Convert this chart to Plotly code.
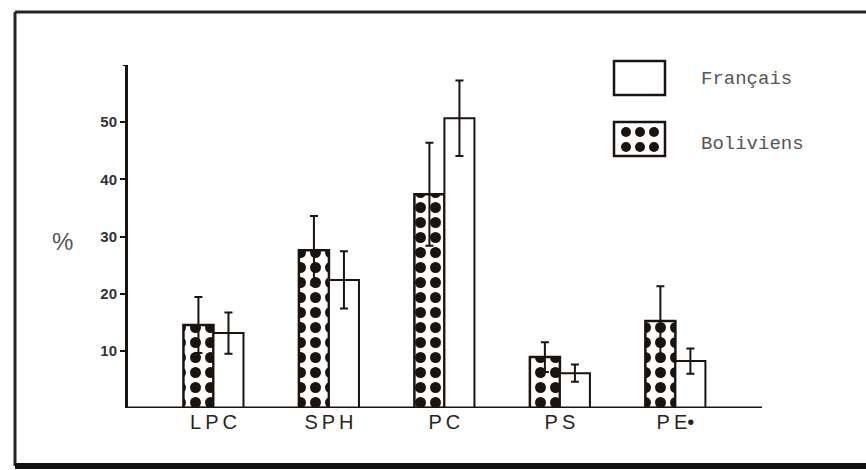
import plotly.graph_objects as go

categories = ["LPC", "SPH", "PC", "PS", "PE•"]
category_labels = ["L\u2009P\u2009C", "S\u2009P\u2009H", "P\u2009C", "P\u2009S", "P\u2009E•"]
boliviens = [14.5, 27.6, 37.4, 8.9, 15.2]
boliviens_err = [4.9, 6.0, 9.0, 2.6, 6.1]
francais = [13.1, 22.4, 50.7, 6.1, 8.2]
francais_err = [3.6, 5.0, 6.6, 1.5, 2.2]
y_ticks = [10, 20, 30, 40, 50]

W, H = 866, 470
L, R, T, B = 128, 104, 65, 62
INK = "#1a1410"

fig = go.Figure()
fig.add_trace(go.Bar(
    x=categories, y=boliviens, name="Boliviens",
    marker=dict(color="white", line=dict(color=INK, width=2.5),
                pattern=dict(shape=".", fgcolor=INK, bgcolor="white", fgopacity=1,
                             size=15, solidity=0.42)),
    error_y=dict(type="data", array=boliviens_err, color=INK,
                 thickness=2, width=4),
))
fig.add_trace(go.Bar(
    x=categories, y=francais, name="Français",
    marker=dict(color="white", line=dict(color=INK, width=2)),
    error_y=dict(type="data", array=francais_err, color=INK,
                 thickness=2, width=4),
))

fig.update_layout(
    width=W, height=H,
    margin=dict(l=L, r=R, t=T, b=B, autoexpand=False),
    paper_bgcolor="white", plot_bgcolor="white",
    barmode="group", bargap=0.48, bargroupgap=0,
    showlegend=False,
    xaxis=dict(range=[-0.74, 4.75], showgrid=False, zeroline=False,
               showline=False, ticks="", tickvals=categories, ticktext=category_labels,
               tickfont=dict(family="Liberation Sans", size=20, color="#2a2420")),
    yaxis=dict(range=[0, 60], showgrid=False, zeroline=False,
               showline=True, linecolor=INK, linewidth=3,
               ticks="outside", ticklen=5, tickwidth=2, tickcolor=INK,
               tickvals=y_ticks, ticktext=["<b>%d</b>" % v for v in y_ticks],
               tickfont=dict(family="Liberation Sans", size=15, color="#333"),
               ),
)

# baseline
fig.add_shape(type="line", xref="paper", yref="y", x0=0, x1=1, y0=0, y1=0,
              line=dict(color=INK, width=3))
# top tick at 60
fig.add_shape(type="line", xref="paper", yref="y", x0=-0.008, x1=0, y0=60, y1=60,
              line=dict(color=INK, width=2))

# outer frame (paper coords)
def px(x):
    return (x - L) / (W - L - R)

def py(y):
    return 1 - (y - T) / (H - T - B)

fig.add_shape(type="line", xref="paper", yref="paper", x0=px(15), x1=px(870), y0=py(12), y1=py(12),
              line=dict(color="#2a2420", width=3))
fig.add_shape(type="line", xref="paper", yref="paper", x0=px(15), x1=px(15), y0=py(12), y1=py(466),
              line=dict(color="#2a2420", width=3))
fig.add_shape(type="line", xref="paper", yref="paper", x0=px(15), x1=px(870), y0=py(466), y1=py(466),
              line=dict(color="#111", width=6))

# legend swatches
fig.add_shape(type="rect", xref="paper", yref="paper", x0=px(614), x1=px(665), y0=py(61), y1=py(95),
              line=dict(color=INK, width=2.5), fillcolor="white")
fig.add_shape(type="rect", xref="paper", yref="paper", x0=px(614), x1=px(665), y0=py(122), y1=py(156),
              line=dict(color=INK, width=2.5), fillcolor="white")
for cx in (626, 640, 654):
    for cy in (132, 147):
        fig.add_shape(type="circle", xref="paper", yref="paper",
                      x0=px(cx - 5), x1=px(cx + 5), y0=py(cy - 5), y1=py(cy + 5),
                      line=dict(width=0), fillcolor=INK)

fig.add_annotation(xref="paper", yref="paper", x=px(699), y=py(79), text="Français",
                   showarrow=False, xanchor="left", yanchor="middle",
                   font=dict(family="Liberation Mono", size=19, color="#555"))
fig.add_annotation(xref="paper", yref="paper", x=px(699), y=py(144), text="Boliviens",
                   showarrow=False, xanchor="left", yanchor="middle",
                   font=dict(family="Liberation Mono", size=19, color="#555"))

fig.add_annotation(xref="paper", yref="paper", x=px(62), y=py(241), text="%",
                   showarrow=False, xanchor="center", yanchor="middle",
                   font=dict(family="Liberation Sans", size=24, color="#555"))

fig.write_html("out.html", config={"displayModeBar": False},
               post_script="document.body.style.margin='0';document.body.style.overflow='hidden';")
